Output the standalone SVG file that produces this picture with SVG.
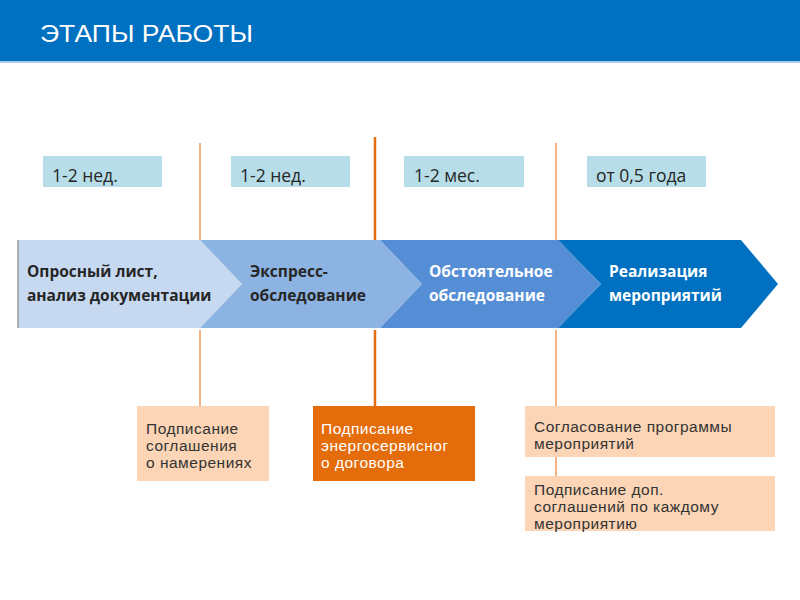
<svg xmlns="http://www.w3.org/2000/svg" width="800" height="600" viewBox="0 0 800 600">
<style>
.dur{fill:#B7DEE8}
.durt{font-family:"Open Sans","Liberation Sans",sans-serif;font-size:17.5px;fill:#262626}
.cht{font-family:"Open Sans","Liberation Sans",sans-serif;font-size:15.5px;font-weight:bold}
.bt{font-family:"Liberation Sans",Arial,sans-serif;font-size:15.5px;letter-spacing:0.5px;fill:#333333}
.lo{stroke:#F4B183;stroke-width:2;fill:none}
.ld{stroke:#E46C0A;stroke-width:2.5;fill:none}
</style>
<rect x="0" y="0" width="800" height="600" fill="#ffffff"/>
<g id="header">
<rect x="0" y="0" width="800" height="61" fill="#0070C0"/>
<rect x="0" y="61" width="800" height="2" fill="#A9CBEA"/>
<text x="40" y="42" font-family="'Liberation Sans',Arial,sans-serif" font-size="23" fill="#ffffff" textLength="213" lengthAdjust="spacingAndGlyphs">ЭТАПЫ РАБОТЫ</text>
</g>
<g id="connectors">
<path class="lo" d="M200 143V240M200 330V406"/>
<path class="ld" d="M375 137V240M375 330V406"/>
<path class="lo" d="M556 143V240M556 330V406M556 457V476"/>
</g>
<g id="dur1"><rect class="dur" x="43" y="156" width="119" height="31"/><text class="durt" x="52" y="182">1-2 нед.</text></g>
<g id="dur2"><rect class="dur" x="231" y="156" width="119" height="31"/><text class="durt" x="240" y="182">1-2 нед.</text></g>
<g id="dur3"><rect class="dur" x="404" y="156" width="120" height="31"/><text class="durt" x="414" y="182">1-2 мес.</text></g>
<g id="dur4"><rect class="dur" x="587" y="156" width="119" height="31"/><text class="durt" x="596" y="182">от 0,5 года</text></g>
<g id="stage1">
<polygon points="18,240 200,240 242,284 200,328 18,328" fill="#C6D9F1"/>
<line x1="18" y1="240" x2="18" y2="328" stroke="#9a9a9a" stroke-width="1.5"/>
<text class="cht" fill="#262626"><tspan x="27" y="277">Опросный лист,</tspan><tspan x="27" y="301">анализ документации</tspan></text>
</g>
<g id="stage2">
<polygon points="200,240 380,240 422,284 380,328 200,328 242,284" fill="#8DB3E2"/>
<text class="cht" fill="#262626"><tspan x="250" y="277">Экспресс-</tspan><tspan x="250" y="301">обследование</tspan></text>
</g>
<g id="stage3">
<polygon points="380,240 558,240 601,284 558,328 380,328 422,284" fill="#558ED5"/>
<text class="cht" fill="#ffffff"><tspan x="429" y="277">Обстоятельное</tspan><tspan x="429" y="301">обследование</tspan></text>
</g>
<g id="stage4">
<polygon points="558,240 741,240 778,284 741,328 558,328 601,284" fill="#0070C0"/>
<text class="cht" fill="#ffffff"><tspan x="609" y="277">Реализация</tspan><tspan x="609" y="301">мероприятий</tspan></text>
</g>
<g id="box1">
<rect x="137" y="406" width="132" height="75" fill="#FBD5B5"/>
<text class="bt"><tspan x="146" y="434">Подписание</tspan><tspan x="146" y="451">соглашения</tspan><tspan x="146" y="468">о намерениях</tspan></text>
</g>
<g id="box2">
<rect x="313" y="406" width="162" height="75" fill="#E46C0A"/>
<text class="bt" style="fill:#ffffff"><tspan x="321" y="434">Подписание</tspan><tspan x="321" y="451">энергосервисног</tspan><tspan x="321" y="468">о договора</tspan></text>
</g>
<g id="box3">
<rect x="525" y="406" width="250" height="51" fill="#FBD5B5"/>
<text class="bt"><tspan x="534" y="432">Согласование программы</tspan><tspan x="534" y="449">мероприятий</tspan></text>
</g>
<g id="box4">
<rect x="525" y="476" width="250" height="55" fill="#FBD5B5"/>
<text class="bt"><tspan x="534" y="495">Подписание доп.</tspan><tspan x="534" y="512">соглашений по каждому</tspan><tspan x="534" y="529">мероприятию</tspan></text>
</g>
</svg>
